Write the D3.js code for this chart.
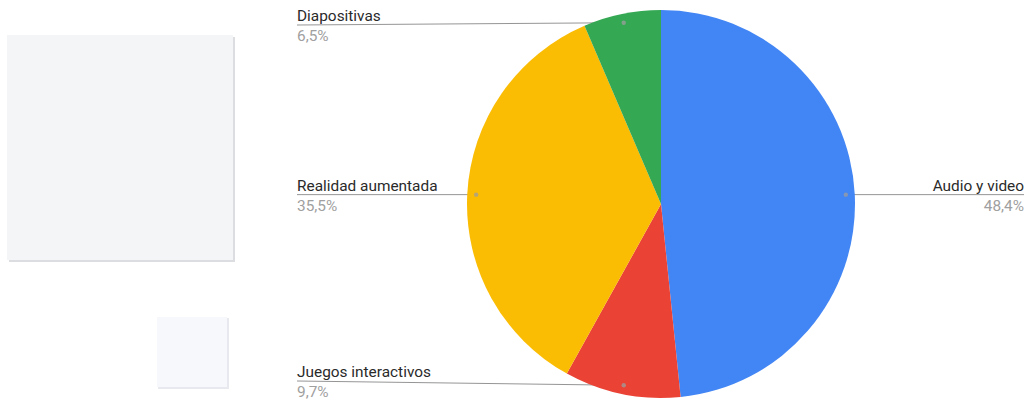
<!DOCTYPE html>
<html>
<head>
<meta charset="utf-8">
<script src="https://cdn.jsdelivr.net/npm/d3@7"></script>
<style>
  html, body { margin: 0; padding: 0; background: #fff; }
  svg { display: block; font-family: Roboto, "Liberation Sans", Arial, sans-serif; }
</style>
</head>
<body>
<svg id="chart" width="1027" height="401"></svg>
<script>
// Survey answers: number of responses per resource type
const categories = ["Audio y video", "Juegos interactivos", "Realidad aumentada", "Diapositivas"];
const counts = [15, 3, 11, 2];
const percentLabels = ["48,4%", "9,7%", "35,5%", "6,5%"];
const sliceColors = ["#4285f4", "#ea4335", "#fbbc04", "#34a853"];

const svg = d3.select("#chart");

// Placeholder panels on the left side of the page
const panels = svg.append("g");
panels.append("rect").attr("x", 9).attr("y", 37).attr("width", 226).attr("height", 225).attr("fill", "#dcdde0");
panels.append("rect").attr("x", 7).attr("y", 35).attr("width", 226).attr("height", 225).attr("fill", "#f4f5f7");
panels.append("rect").attr("x", 158).attr("y", 318).attr("width", 71).attr("height", 71).attr("fill", "#e8e9ee");
panels.append("rect").attr("x", 157).attr("y", 317).attr("width", 70).attr("height", 70).attr("fill", "#f7f8fc");

const cx = 661, cy = 204, radius = 194;
const labelLeftX = 297, labelRightX = 1024;
const labelTop = 25, labelBottom = 381;

const pie = d3.pie().sort(null).value(d => d)(counts);
const arc = d3.arc().innerRadius(0).outerRadius(radius);
const dotArc = d3.arc().innerRadius(radius * 0.954).outerRadius(radius * 0.954);

// Label layout: leader lines run from the label to a dot inside each slice
const labels = pie.map((p, i) => {
  const [dx, dy] = dotArc.centroid(p);
  const mid = (p.startAngle + p.endAngle) / 2;
  const right = Math.sin(mid) > 0;
  const ly = Math.max(labelTop, Math.min(labelBottom, cy + dy));
  return { i, dotX: cx + dx, dotY: cy + dy, right, x: right ? labelRightX : labelLeftX, y: ly };
});

// Leader lines sit beneath the slices
svg.append("g")
  .selectAll("line")
  .data(labels)
  .join("line")
  .attr("x1", d => d.x).attr("y1", d => d.y)
  .attr("x2", d => d.dotX).attr("y2", d => d.dotY)
  .attr("stroke", "#959595").attr("stroke-width", 1);

const g = svg.append("g").attr("transform", `translate(${cx},${cy})`);
g.selectAll("path")
  .data(pie)
  .join("path")
  .attr("d", arc)
  .attr("fill", (d, i) => sliceColors[i]);

svg.append("g")
  .selectAll("circle")
  .data(labels)
  .join("circle")
  .attr("cx", d => d.dotX).attr("cy", d => d.dotY)
  .attr("r", 2.2)
  .attr("fill", "#9e9e9e").attr("fill-opacity", 0.75);

const text = svg.append("g").attr("font-size", 15.4);
text.selectAll("text.name")
  .data(labels)
  .join("text")
  .attr("class", "name")
  .attr("x", d => d.x).attr("y", d => d.y - 4)
  .attr("text-anchor", d => d.right ? "end" : "start")
  .attr("fill", "#2a2a2a")
  .text(d => categories[d.i]);
text.selectAll("text.pct")
  .data(labels)
  .join("text")
  .attr("class", "pct")
  .attr("x", d => d.x).attr("y", d => d.y + 16)
  .attr("text-anchor", d => d.right ? "end" : "start")
  .attr("fill", "#a0a0a0")
  .text(d => percentLabels[d.i]);
</script>
</body>
</html>
